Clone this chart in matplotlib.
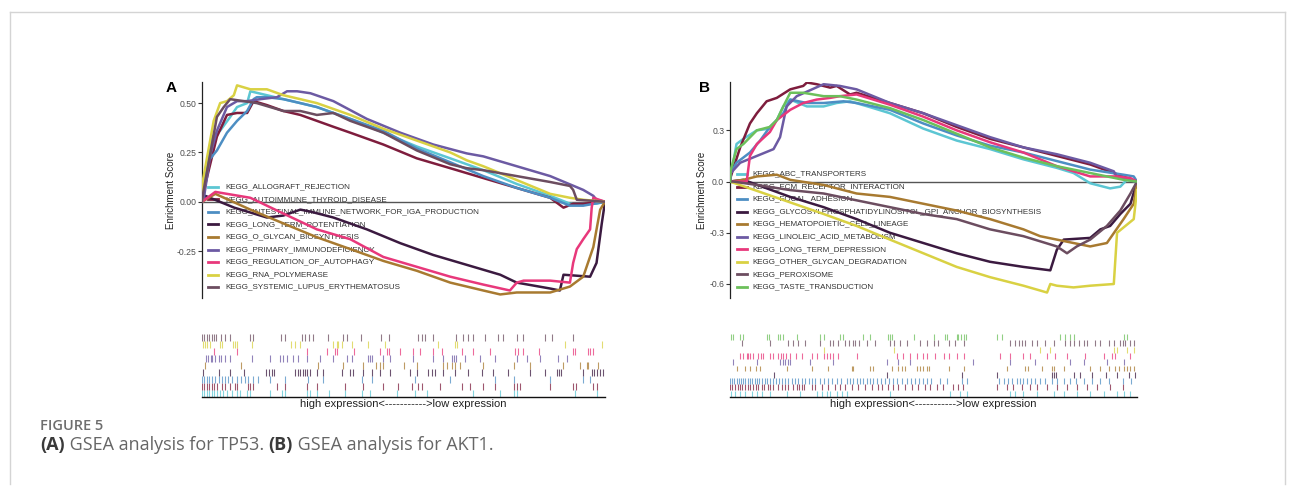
import matplotlib
matplotlib.use("Agg")
import matplotlib.pyplot as plt
from matplotlib.lines import Line2D

# ---------------- data (x = position in ranked gene list, %; y = running enrichment score) -------------
setsA = ["KEGG_ALLOGRAFT_REJECTION", "KEGG_AUTOIMMUNE_THYROID_DISEASE",
         "KEGG_INTESTINAL_IMMUNE_NETWORK_FOR_IGA_PRODUCTION", "KEGG_LONG_TERM_POTENTIATION",
         "KEGG_O_GLYCAN_BIOSYNTHESIS", "KEGG_PRIMARY_IMMUNODEFICIENCY",
         "KEGG_REGULATION_OF_AUTOPHAGY", "KEGG_RNA_POLYMERASE", "KEGG_SYSTEMIC_LUPUS_ERYTHEMATOSUS"]
colorsA = ["#5cc6d3", "#7e1d3d", "#4d8ec3", "#3b1a40", "#a87a30", "#6c5aa3", "#e8387b", "#d9d143", "#6c4d60"]

esA_x = [
    [0, 0.4, 2.5, 4.5, 7.0, 8.7, 11.2, 12.0, 16.1, 20.2, 24.4, 28.5, 32.6, 36.8, 45.0, 53.3, 61.6, 69.8, 78.1, 86.4, 91.3, 94.6, 97.9, 100],
    [0, 0.25, 3.7, 6.2, 8.7, 11.2, 12.0, 12.8, 16.1, 20.2, 24.4, 28.5, 32.6, 36.8, 45.0, 53.3, 61.6, 69.8, 78.1, 86.4, 89.7, 92.1, 94.6, 100],
    [0, 0.4, 1.7, 3.7, 6.2, 8.7, 11.2, 12.8, 13.6, 16.1, 20.2, 24.4, 28.5, 32.6, 36.8, 45.0, 53.3, 61.6, 69.8, 78.1, 86.4, 91.3, 94.6, 100],
    [0, 0.8, 8.0, 16.1, 20.2, 24.4, 26.9, 32.6, 40.9, 49.2, 57.4, 65.7, 74.0, 78.1, 86.4, 88.8, 89.7, 96.3, 97.9, 99.2, 100],
    [0, 3.3, 12.0, 20.2, 28.5, 36.8, 45.0, 53.3, 61.6, 69.8, 74.0, 78.1, 86.4, 91.3, 94.6, 97.1, 98.8, 100],
    [0, 0.4, 2.1, 3.7, 6.2, 8.7, 11.2, 14.5, 18.6, 21.1, 23.6, 26.9, 32.6, 40.9, 49.2, 57.4, 65.7, 69.8, 78.1, 86.4, 94.6, 97.1, 97.9, 100],
    [0, 3.3, 12.0, 20.2, 28.5, 36.8, 45.0, 53.3, 61.6, 69.8, 76.4, 78.1, 79.8, 86.4, 91.3, 92.1, 93.0, 94.6, 96.3, 96.7, 97.1, 100],
    [0, 0.25, 2.9, 4.5, 6.2, 7.9, 8.7, 12.0, 16.1, 20.2, 24.4, 28.5, 36.8, 45.0, 53.3, 61.6, 65.7, 69.8, 78.1, 86.4, 91.3, 94.6, 100],
    [0, 0.25, 3.7, 5.4, 7.0, 10.3, 13.6, 20.2, 24.4, 28.5, 32.6, 36.8, 45.0, 53.3, 61.6, 65.7, 69.8, 78.1, 86.4, 91.3, 92.1, 93.0, 100],
]
esA_y = [
    [0, 0.11, 0.33, 0.36, 0.43, 0.48, 0.50, 0.56, 0.54, 0.52, 0.50, 0.48, 0.45, 0.42, 0.35, 0.28, 0.22, 0.16, 0.09, 0.03, -0.01, -0.01, -0.01, 0],
    [0, 0.04, 0.33, 0.44, 0.45, 0.45, 0.48, 0.51, 0.49, 0.46, 0.44, 0.41, 0.38, 0.35, 0.29, 0.22, 0.17, 0.12, 0.07, 0.02, -0.03, -0.01, -0.01, 0],
    [0, 0.03, 0.21, 0.26, 0.35, 0.41, 0.46, 0.52, 0.53, 0.53, 0.52, 0.50, 0.48, 0.45, 0.42, 0.36, 0.27, 0.20, 0.13, 0.07, 0.02, -0.02, -0.02, 0],
    [0, 0.03, -0.03, -0.08, -0.07, -0.04, -0.05, -0.08, -0.14, -0.21, -0.27, -0.32, -0.37, -0.41, -0.44, -0.45, -0.37, -0.38, -0.31, -0.11, 0],
    [0, 0.04, -0.04, -0.11, -0.18, -0.24, -0.30, -0.35, -0.41, -0.45, -0.47, -0.46, -0.46, -0.43, -0.38, -0.23, -0.04, 0],
    [0, 0.01, 0.24, 0.36, 0.48, 0.51, 0.51, 0.52, 0.53, 0.56, 0.56, 0.55, 0.51, 0.42, 0.35, 0.29, 0.245, 0.23, 0.18, 0.13, 0.06, 0.03, 0.01, 0],
    [0, 0.05, 0.02, -0.06, -0.14, -0.19, -0.28, -0.33, -0.38, -0.42, -0.45, -0.41, -0.40, -0.40, -0.41, -0.31, -0.24, -0.19, -0.14, -0.03, 0.02, 0],
    [0, 0.11, 0.41, 0.50, 0.51, 0.54, 0.59, 0.57, 0.57, 0.54, 0.52, 0.50, 0.44, 0.37, 0.31, 0.25, 0.21, 0.18, 0.11, 0.04, 0.02, 0.01, 0],
    [0, 0.04, 0.43, 0.48, 0.52, 0.51, 0.50, 0.46, 0.46, 0.44, 0.45, 0.41, 0.35, 0.26, 0.19, 0.17, 0.16, 0.13, 0.10, 0.08, 0.06, 0.01, 0],
]
hitsA = [
    [0.1, 0.6, 1.2, 1.8, 2.4, 3.0, 3.6, 4.5, 5.3, 6.1, 7.4, 8.6, 9.4, 11.1, 11.9, 16.9, 19.8, 20.6, 26.0, 26.8, 28.5, 31.4, 35.5, 39.6, 41.7, 48.3, 52.9, 55.8, 67.3, 73.9, 77.3, 78.1, 92.6, 98.0],
    [0.1, 0.6, 1.2, 1.8, 2.4, 3.0, 3.6, 4.9, 5.7, 6.9, 8.2, 8.8, 11.5, 11.9, 12.7, 18.5, 20.6, 26.0, 28.5, 35.5, 40.0, 45.0, 48.7, 52.0, 53.7, 54.5, 59.1, 64.4, 66.5, 69.8, 72.7, 77.3, 78.1, 78.9, 86.4, 92.1, 92.9, 97.1, 97.9],
    [0.1, 0.6, 1.2, 1.8, 2.4, 3.2, 4.1, 4.9, 5.7, 6.5, 7.4, 8.8, 9.6, 10.7, 11.5, 12.7, 14.0, 16.9, 20.6, 26.4, 30.1, 39.6, 42.1, 52.9, 61.5, 72.7, 77.3, 86.4, 94.6, 96.3],
    [0.3, 4.1, 6.9, 10.3, 16.0, 16.7, 17.3, 17.9, 23.1, 23.7, 24.3, 25.0, 25.6, 26.1, 26.8, 28.5, 30.1, 34.7, 36.7, 37.4, 40.0, 42.1, 44.2, 46.6, 51.6, 53.3, 56.2, 57.0, 57.8, 59.9, 62.8, 66.1, 69.4, 72.3, 76.0, 81.4, 85.1, 88.0, 88.7, 89.2, 94.6, 96.7, 97.3, 97.9, 98.8, 99.6],
    [0.7, 9.8, 28.9, 35.1, 40.0, 43.3, 44.2, 45.0, 50.0, 53.3, 59.9, 60.7, 62.0, 62.8, 64.0, 69.8, 77.3, 81.4, 89.7, 93.8, 95.5, 95.9, 98.3],
    [1.0, 1.6, 2.2, 2.6, 3.2, 4.1, 4.7, 5.7, 6.9, 12.3, 16.9, 19.4, 20.2, 21.0, 22.7, 23.9, 26.0, 29.3, 32.6, 35.9, 37.1, 41.3, 41.7, 42.3, 45.0, 46.6, 52.4, 57.4, 59.9, 62.0, 62.5, 63.0, 65.3, 69.0, 72.7, 78.1, 80.6, 83.9, 88.4, 90.5],
    [3.1, 8.8, 26.0, 30.9, 33.0, 33.4, 37.6, 44.2, 45.8, 46.5, 49.1, 52.4, 54.1, 57.4, 59.5, 64.4, 67.3, 71.5, 77.7, 78.5, 79.6, 83.5, 92.0, 92.6, 95.9, 96.4, 96.9],
    [0.3, 0.7, 1.3, 2.0, 4.5, 4.9, 7.8, 8.2, 8.6, 12.3, 22.2, 23.1, 24.3, 32.6, 33.4, 33.8, 34.7, 37.1, 41.3, 45.4, 58.6, 62.8, 63.2, 90.1, 99.2],
    [0.1, 0.6, 1.2, 1.8, 2.4, 3.0, 3.4, 4.7, 5.7, 6.9, 11.9, 12.6, 19.5, 20.6, 24.7, 25.6, 26.6, 27.6, 31.2, 35.1, 35.9, 39.5, 44.3, 46.5, 53.7, 54.5, 55.3, 57.4, 63.0, 64.8, 66.1, 67.2, 70.2, 73.5, 74.8, 78.1, 79.7, 85.1, 86.8, 92.1],
]
ticksA = [-0.25, 0.0, 0.25, 0.50]
ticklabA = ["-0.25", "0.00", "0.25", "0.50"]

setsB = ["KEGG_ABC_TRANSPORTERS", "KEGG_ECM_RECEPTOR_INTERACTION", "KEGG_FOCAL_ADHESION",
         "KEGG_GLYCOSYLPHOSPHATIDYLINOSITOL_GPI_ANCHOR_BIOSYNTHESIS", "KEGG_HEMATOPOIETIC_CELL_LINEAGE",
         "KEGG_LINOLEIC_ACID_METABOLISM", "KEGG_LONG_TERM_DEPRESSION", "KEGG_OTHER_GLYCAN_DEGRADATION",
         "KEGG_PEROXISOME", "KEGG_TASTE_TRANSDUCTION"]
colorsB = ["#5cc6d3", "#7e1d3d", "#4d8ec3", "#3b1a40", "#a87a30", "#6c5aa3", "#e8387b", "#d9d143", "#6c4d60", "#6cc05b"]

esB_x = [
    [0, 0.2, 1.6, 3.3, 6.6, 9.8, 11.5, 13.1, 14.8, 18.9, 23.0, 26.2, 29.5, 35.2, 39.3, 47.5, 55.7, 63.9, 72.1, 80.3, 84.4, 88.5, 93.4, 95.9, 97.5, 100],
    [0, 0.2, 2.5, 4.9, 6.6, 9.0, 11.5, 14.8, 18.0, 18.9, 21.3, 24.6, 26.2, 29.5, 31.1, 39.3, 47.5, 55.7, 63.9, 72.1, 80.3, 88.5, 94.3, 100],
    [0, 0.2, 1.6, 4.9, 7.4, 9.8, 11.5, 13.1, 14.8, 18.9, 23.0, 27.9, 31.1, 39.3, 47.5, 55.7, 63.9, 72.1, 80.3, 88.5, 96.7, 99.2, 100],
    [0, 3.3, 14.8, 23.0, 31.1, 39.3, 47.5, 55.7, 63.9, 72.1, 78.7, 80.3, 82.0, 88.5, 91.0, 93.4, 95.9, 98.4, 100],
    [0, 3.3, 6.6, 11.5, 14.8, 23.0, 31.1, 39.3, 47.5, 55.7, 63.9, 72.1, 76.2, 80.3, 84.4, 88.5, 92.6, 96.7, 99.2, 100],
    [0, 0.2, 2.5, 6.6, 10.7, 12.3, 13.9, 16.4, 23.0, 27.0, 31.1, 39.3, 47.5, 55.7, 63.9, 72.1, 80.3, 88.5, 94.3, 95.0, 100],
    [0, 4.1, 4.9, 6.6, 9.8, 11.5, 14.8, 18.0, 21.3, 24.6, 27.0, 31.1, 39.3, 47.5, 55.7, 63.9, 72.1, 80.3, 88.5, 95.1, 98.4, 100],
    [0, 23.0, 31.1, 39.3, 47.5, 55.7, 63.9, 72.1, 77.9, 78.7, 80.3, 84.4, 88.5, 94.3, 95.1, 99.2, 100],
    [0, 0.8, 6.6, 14.8, 23.0, 31.1, 39.3, 47.5, 55.7, 63.9, 72.1, 80.3, 82.8, 85.2, 88.5, 92.6, 95.9, 98.4, 100],
    [0, 0.2, 1.6, 3.3, 6.6, 9.8, 11.5, 13.1, 14.8, 18.0, 23.0, 27.0, 31.1, 39.3, 47.5, 55.7, 63.9, 72.1, 80.3, 88.5, 96.7, 100],
]
esB_y = [
    [0, 0.03, 0.22, 0.25, 0.30, 0.31, 0.36, 0.44, 0.48, 0.44, 0.44, 0.46, 0.47, 0.43, 0.40, 0.31, 0.24, 0.19, 0.13, 0.08, 0.05, -0.01, -0.04, -0.03, 0.01, 0],
    [0, 0.03, 0.20, 0.34, 0.40, 0.47, 0.49, 0.54, 0.56, 0.58, 0.57, 0.55, 0.56, 0.51, 0.52, 0.46, 0.40, 0.32, 0.25, 0.20, 0.15, 0.10, 0.05, 0],
    [0, 0.05, 0.11, 0.17, 0.24, 0.32, 0.36, 0.40, 0.48, 0.46, 0.46, 0.47, 0.46, 0.42, 0.34, 0.27, 0.21, 0.17, 0.12, 0.07, 0.04, 0.03, 0],
    [0, 0.01, -0.09, -0.15, -0.22, -0.30, -0.36, -0.42, -0.47, -0.50, -0.52, -0.40, -0.34, -0.33, -0.28, -0.26, -0.19, -0.13, 0],
    [0, 0.01, 0.03, 0.04, 0.01, -0.02, -0.07, -0.09, -0.13, -0.17, -0.22, -0.28, -0.32, -0.34, -0.36, -0.38, -0.36, -0.22, -0.13, 0],
    [0, 0.05, 0.11, 0.15, 0.19, 0.26, 0.44, 0.50, 0.57, 0.56, 0.54, 0.46, 0.40, 0.33, 0.26, 0.20, 0.16, 0.11, 0.06, 0.03, 0],
    [0, 0, 0.15, 0.22, 0.29, 0.36, 0.42, 0.46, 0.48, 0.49, 0.50, 0.51, 0.45, 0.38, 0.30, 0.23, 0.17, 0.09, 0.03, 0.03, 0.02, 0],
    [0, -0.19, -0.26, -0.34, -0.42, -0.50, -0.56, -0.61, -0.65, -0.60, -0.61, -0.62, -0.61, -0.60, -0.30, -0.22, -0.05],
    [0, 0, -0.02, -0.05, -0.07, -0.11, -0.15, -0.19, -0.22, -0.28, -0.32, -0.38, -0.42, -0.38, -0.34, -0.26, -0.17, -0.07, 0],
    [0, 0.07, 0.19, 0.22, 0.30, 0.32, 0.36, 0.44, 0.52, 0.52, 0.50, 0.50, 0.48, 0.43, 0.36, 0.28, 0.20, 0.14, 0.09, 0.05, 0.01, 0],
]
hitsB = [
    [0.2, 1.2, 2.5, 3.7, 5.3, 6.6, 7.8, 9.8, 13.9, 17.2, 21.3, 22.5, 23.8, 24.6, 26.2, 27.5, 28.7, 39.3, 54.1, 56.6, 58.2, 68.9, 70.1, 72.1, 75.4, 79.5, 82.0, 85.2, 88.5, 91.8, 95.1, 96.7, 98.4],
    [0.0, 0.6, 1.2, 1.9, 2.5, 3.0, 3.7, 4.3, 4.9, 5.7, 6.3, 7.0, 7.8, 8.4, 9.3, 9.8, 10.6, 11.9, 12.7, 13.5, 14.3, 15.6, 16.4, 17.0, 17.6, 18.3, 20.1, 20.9, 22.5, 24.2, 25.8, 27.0, 28.3, 29.9, 31.5, 33.2, 34.8, 36.4, 37.3, 38.9, 40.1, 41.4, 43.0, 44.6, 46.3, 47.9, 49.1, 50.8, 52.4, 54.9, 56.1, 57.3, 65.5, 68.0, 69.6, 71.7, 73.7, 75.4, 77.8, 80.3, 82.7, 85.2, 87.6, 90.1, 93.4, 96.6],
    [0.0, 0.5, 1.0, 1.6, 2.1, 2.7, 3.2, 3.8, 4.3, 4.9, 5.5, 6.1, 6.6, 7.2, 7.8, 8.6, 9.2, 9.8, 10.5, 11.3, 12.0, 12.7, 13.5, 14.3, 15.2, 16.0, 16.8, 17.6, 18.4, 19.3, 20.1, 21.0, 22.0, 23.0, 24.0, 25.0, 26.2, 27.3, 28.7, 29.5, 30.3, 31.1, 32.0, 32.8, 33.6, 34.4, 35.2, 36.1, 37.0, 38.0, 39.0, 40.0, 41.0, 42.2, 43.4, 44.4, 45.4, 46.5, 47.5, 48.5, 49.5, 51.6, 53.3, 57.0, 58.2, 66.0, 67.2, 68.4, 69.4, 70.5, 71.3, 72.1, 73.0, 74.0, 75.0, 76.2, 77.5, 79.0, 80.3, 82.0, 83.5, 85.0, 87.0, 89.0, 91.0, 93.0, 96.5, 98.5],
    [10.7, 38.5, 57.0, 65.6, 79.0, 79.5, 80.0, 84.4, 86.0, 89.0, 92.5, 95.0, 98.0, 99.5],
    [1.6, 3.7, 4.9, 6.4, 7.4, 13.9, 20.1, 24.2, 29.9, 30.3, 34.4, 35.1, 39.8, 41.4, 42.2, 43.0, 45.9, 46.7, 47.5, 48.4, 49.0, 53.7, 57.4, 68.0, 72.5, 73.1, 76.6, 79.1, 79.7, 82.0, 88.5, 91.0, 93.0, 94.7, 95.5, 96.7, 97.5, 98.4, 99.2],
    [0.8, 6.6, 12.3, 13.0, 13.5, 14.2, 14.8, 19.7, 25.4, 38.5, 41.4, 44.3, 59.8, 68.9, 75.0, 83.6, 86.9, 92.6, 96.7],
    [2.5, 3.1, 4.1, 4.5, 4.9, 5.6, 7.0, 7.5, 8.2, 9.8, 10.5, 11.9, 12.5, 13.1, 13.8, 14.8, 16.2, 17.6, 20.1, 21.3, 23.0, 23.8, 24.6, 25.4, 26.6, 31.1, 41.0, 42.6, 44.3, 45.9, 47.5, 48.4, 50.4, 52.5, 53.7, 55.7, 57.4, 66.4, 68.9, 72.1, 73.8, 77.9, 79.9, 82.8, 87.3, 91.8, 93.9, 94.7, 98.4],
    [23.0, 40.2, 76.2, 78.7, 94.3, 95.1, 97.5, 99.2],
    [2.9, 9.8, 14.3, 15.6, 16.8, 18.4, 22.1, 24.6, 25.4, 26.6, 28.3, 29.3, 30.2, 30.7, 31.6, 33.6, 35.7, 39.3, 40.3, 41.8, 43.4, 46.7, 48.4, 50.0, 51.2, 53.7, 55.3, 57.4, 68.9, 70.1, 70.9, 71.7, 72.5, 74.2, 75.4, 77.5, 79.5, 82.4, 83.6, 84.4, 85.7, 86.9, 87.7, 89.8, 91.0, 93.0, 94.3, 95.9, 96.6, 97.1, 98.4, 99.2],
    [0.2, 0.8, 2.5, 3.1, 9.0, 9.7, 11.9, 12.3, 12.9, 16.4, 22.1, 23.0, 27.0, 27.7, 32.8, 34.4, 38.9, 39.3, 39.8, 45.1, 50.0, 52.9, 53.3, 55.7, 56.1, 56.7, 57.4, 58.0, 65.6, 66.8, 81.1, 82.4, 83.6, 84.4, 96.7, 97.5],
]
ticksB = [-0.6, -0.3, 0.0, 0.3]
ticklabB = ["-0.6", "-0.3", "0.0", "0.3"]

rug_label = "high expression<----------->low expression"
caption_title = "FIGURE 5"
caption_parts = [("(A)", "bold"), (" GSEA analysis for TP53. ", "normal"),
                 ("(B)", "bold"), (" GSEA analysis for AKT1.", "normal")]

# ---------------- layout helpers ----------------
W, H = 1295, 495
plt.rcParams["font.family"] = ["Liberation Sans", "DejaVu Sans"]
fig = plt.figure(figsize=(W / 100, H / 100), dpi=100)
fig.patch.set_facecolor("white")


def rect(l, t, r, b):
    return [l / W, 1 - b / H, (r - l) / W, (b - t) / H]


def panel(letter, left, right, ylim, ticks, ticklabs, names, cols, xs, ys, hits,
          leg_first_y, leg_pitch, key_x0, text_x0, letter_x, ylab_dx):
    top, bottom = 82, 298
    w = right - left
    hgt = bottom - top
    ax = fig.add_axes(rect(left, top, right, bottom))
    ax.set_xlim(0, 100)
    ax.set_ylim(*ylim)
    for s in ["top", "right", "bottom"]:
        ax.spines[s].set_visible(False)
    ax.spines["left"].set_color("#222222")
    ax.spines["left"].set_linewidth(0.9)
    ax.set_xticks([])
    ax.set_yticks(ticks)
    ax.set_yticklabels(ticklabs)
    ax.tick_params(axis="y", length=3, width=0.8, color="#333333", labelsize=6.2,
                   labelcolor="#4d4d4d", pad=1.2)
    ax.axhline(0, color="#555555", lw=1.0, zorder=2)
    for x, y, c in zip(xs, ys, cols):
        ax.plot(x, y, color=c, lw=1.8, solid_joinstyle="round", zorder=3)
    ax.text(ylab_dx / w, 0.5, "Enrichment Score", rotation=90, ha="center",
            va="center", fontsize=7, color="#222222", transform=ax.transAxes)
    # legend (drawn beneath the curves as in the original)
    for i, (nm, c) in enumerate(zip(names, cols)):
        py = leg_first_y + i * leg_pitch
        ya = (bottom - py) / hgt
        ax.add_line(Line2D([key_x0 / w, (key_x0 + 10) / w], [ya, ya],
                           color=c, lw=2.0, transform=ax.transAxes, zorder=1))
        ax.text(text_x0 / w, ya, nm, fontsize=5.8, color="#333333",
                va="center", ha="left", transform=ax.transAxes, zorder=1)
    fig.text(letter_x / W, 1 - 88 / H, letter, fontsize=11, fontweight="bold",
             ha="center", va="center", color="black")

    # rug of gene-set hits
    rax = fig.add_axes(rect(left, 334, right, 397))
    rax.set_xlim(0, 100)
    rax.set_ylim(0, len(hits))
    for s in ["top", "right", "left"]:
        rax.spines[s].set_visible(False)
    rax.spines["bottom"].set_color("#111111")
    rax.spines["bottom"].set_linewidth(1.0)
    rax.set_xticks([])
    rax.set_yticks([])
    for i, (h, c) in enumerate(zip(hits, cols)):
        rax.vlines(h, i + 0.05, i + 1.0, colors=c, lw=0.8, alpha=0.75)
    rax.text(0.5, (397 - 404) / 63, rug_label, fontsize=8, color="#222222",
             ha="center", va="center", transform=rax.transAxes)


panel("A", 202, 605, (-0.488, 0.607), ticksA, ticklabA, setsA, colorsA, esA_x, esA_y, hitsA,
      186.7, 12.57, 6, 23, 171, -31)
panel("B", 730, 1137, (-0.682, 0.583), ticksB, ticklabB, setsB, colorsB, esB_x, esB_y, hitsB,
      174.0, 12.55, 7, 22, 705, -28)

# ---------------- frame and caption ----------------
frame_c = "#d4d4d4"
fig.add_artist(Line2D([10 / W, 10 / W], [1 - 12 / H, 1 - 484 / H], color=frame_c, lw=1.0))
fig.add_artist(Line2D([10 / W, 1285 / W], [1 - 12 / H, 1 - 12 / H], color=frame_c, lw=1.0))
fig.add_artist(Line2D([1285 / W, 1285 / W], [1 - 12 / H, 1 - 484 / H], color=frame_c, lw=1.0))

fig.text(40 / W, 1 - 426 / H, caption_title, fontsize=10.5, fontweight="semibold",
         family=["Open Sans", "DejaVu Sans"], color="#6e6e6e", ha="left", va="center")

renderer = fig.canvas.get_renderer()
xcur = 40.0
for txt, wt in caption_parts:
    t = fig.text(xcur / W, 1 - 445 / H, txt, fontsize=13, fontweight=wt,
                 family=["Open Sans", "DejaVu Sans"],
                 color="#3a3a3a" if wt == "bold" else "#666666", ha="left", va="center")
    bb = t.get_window_extent(renderer=renderer)
    xcur += bb.width

fig.savefig("out.png", dpi=100, facecolor="white")
